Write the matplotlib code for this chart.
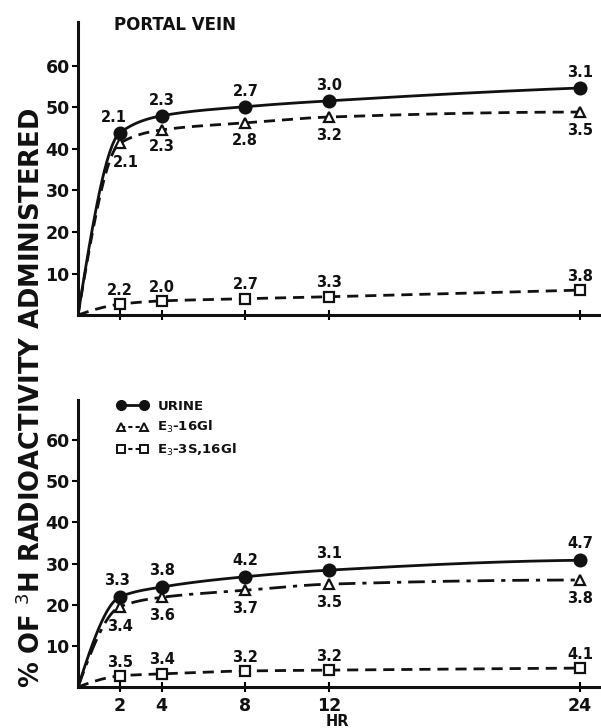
import matplotlib
matplotlib.use("Agg")
import matplotlib.pyplot as plt
import numpy as np
from matplotlib.lines import Line2D

hours = [2, 4, 8, 12, 24]

# Portal vein panel
pv_urine = [43.9, 48.0, 50.2, 51.6, 54.7]
pv_urine_lbl = ["2.1", "2.3", "2.7", "3.0", "3.1"]
pv_e3gl = [41.4, 44.6, 46.3, 47.7, 48.9]
pv_e3gl_lbl = ["2.1", "2.3", "2.8", "3.2", "3.5"]
pv_e3sgl = [2.6, 3.4, 3.9, 4.4, 6.0]
pv_e3sgl_lbl = ["2.2", "2.0", "2.7", "3.3", "3.8"]

# second panel
b_urine = [21.9, 24.3, 26.8, 28.4, 30.8]
b_urine_lbl = ["3.3", "3.8", "4.2", "3.1", "4.7"]
b_e3gl = [19.5, 21.8, 23.5, 25.0, 26.0]
b_e3gl_lbl = ["3.4", "3.6", "3.7", "3.5", "3.8"]
b_e3sgl = [2.7, 3.2, 3.9, 4.1, 4.6]
b_e3sgl_lbl = ["3.5", "3.4", "3.2", "3.2", "4.1"]

y_ticks = [10, 20, 30, 40, 50, 60]
x_ticks = [2, 4, 8, 12, 24]


def pchip(x, y, xs):
    # monotone cubic (Fritsch-Carlson) just for drawing the smooth curve
    x = np.asarray(x, float)
    y = np.asarray(y, float)
    h = np.diff(x)
    d = np.diff(y) / h
    m = np.zeros_like(y)
    for k in range(1, len(x) - 1):
        if d[k - 1] * d[k] > 0:
            w1 = 2 * h[k] + h[k - 1]
            w2 = h[k] + 2 * h[k - 1]
            m[k] = (w1 + w2) / (w1 / d[k - 1] + w2 / d[k])
    m[0] = ((2 * h[0] + h[1]) * d[0] - h[0] * d[1]) / (h[0] + h[1])
    if np.sign(m[0]) != np.sign(d[0]):
        m[0] = 0
    m[-1] = ((2 * h[-1] + h[-2]) * d[-1] - h[-1] * d[-2]) / (h[-1] + h[-2])
    if np.sign(m[-1]) != np.sign(d[-1]):
        m[-1] = 0
    idx = np.clip(np.searchsorted(x, xs) - 1, 0, len(x) - 2)
    t = (xs - x[idx]) / h[idx]
    h00 = 2 * t**3 - 3 * t**2 + 1
    h10 = t**3 - 2 * t**2 + t
    h01 = -2 * t**3 + 3 * t**2
    h11 = t**3 - t**2
    return h00 * y[idx] + h10 * h[idx] * m[idx] + h01 * y[idx + 1] + h11 * h[idx] * m[idx + 1]


xs = np.linspace(0, 24, 400)
ink = "#111111"
num_font = dict(fontsize=10.5, fontweight="bold", color=ink, ha="center", va="center")

fig = plt.figure(figsize=(6.01, 7.28), dpi=100)
ax_top = fig.add_axes([0.1298, 0.5673, 0.8702, 0.4025])
ax_bot = fig.add_axes([0.1298, 0.0563, 0.8702, 0.394])


def draw_series(ax, vals, labels, marker, face, ls, offsets):
    xx = [0] + hours
    yy = [0] + vals
    ax.plot(xs, pchip(xx, yy, xs), color=ink, lw=2.0, linestyle=ls, zorder=2)
    ax.plot(hours, vals, linestyle="none", marker=marker, markersize=8.5 if marker == "o" else 7.5,
            markerfacecolor=face, markeredgecolor=ink, markeredgewidth=1.6, zorder=3)
    for h, v, lbl, off in zip(hours, vals, labels, offsets):
        ax.annotate(lbl, (h, v), xytext=off, textcoords="offset points", **num_font)


def style_axes(ax, top):
    ax.set_xlim(0, 25)
    ax.set_ylim(0, 70.6 if top else 69.7)
    for side in ("top", "right"):
        ax.spines[side].set_visible(False)
    for side in ("left", "bottom"):
        ax.spines[side].set_linewidth(2.2)
        ax.spines[side].set_color(ink)
    ax.set_yticks(y_ticks)
    ax.set_yticklabels([str(v) for v in y_ticks], fontsize=12.5, fontweight="bold", color=ink)
    ax.tick_params(axis="y", direction="out", length=4, width=1.5, pad=2)
    ax.set_xticks(x_ticks)
    ax.tick_params(axis="x", direction="inout", length=7, width=1.5, pad=4)
    if top:
        ax.set_xticklabels([])
    else:
        ax.set_xticklabels([str(v) for v in x_ticks], fontsize=12.5, fontweight="bold", color=ink)
    ax.patch.set_visible(False)


# --- portal vein ---
draw_series(ax_top, pv_urine, pv_urine_lbl, "o", ink, "-",
            [(-4, 11), (0, 11), (0, 11), (0, 11), (0, 11)])
draw_series(ax_top, pv_e3gl, pv_e3gl_lbl, "^", "white", (0, (4, 2.5)),
            [(4, -14), (0, -12), (0, -13), (0, -13), (0, -13)])
draw_series(ax_top, pv_e3sgl, pv_e3sgl_lbl, "s", "white", (0, (4, 2.5)),
            [(0, 10), (0, 10), (0, 10), (0, 10), (0, 10)])
style_axes(ax_top, True)
fig.text(0.19, 0.965, "PORTAL VEIN", fontsize=12, fontweight="bold", color=ink, ha="left", va="center")

# --- urine ---
draw_series(ax_bot, b_urine, b_urine_lbl, "o", ink, "-",
            [(-2, 12), (0, 12), (0, 12), (0, 12), (0, 12)])
draw_series(ax_bot, b_e3gl, b_e3gl_lbl, "^", "white", (0, (6, 2.5, 1.5, 2.5)),
            [(0, -14), (0, -13), (0, -13), (0, -13), (0, -13)])
draw_series(ax_bot, b_e3sgl, b_e3sgl_lbl, "s", "white", (0, (4, 2.5)),
            [(0, 10), (0, 10), (0, 10), (0, 10), (0, 10)])
style_axes(ax_bot, False)
fig.text(0.561, 1 - 714 / 728, "HR", fontsize=10.5, fontweight="bold", color=ink,
         ha="center", va="top")

handles = [
    Line2D([], [], color=ink, lw=2, marker="o", markersize=7, markerfacecolor=ink),
    Line2D([], [], color=ink, lw=1.5, linestyle=(0, (2, 1.5)), marker="^", markersize=6,
           markerfacecolor="white", markeredgecolor=ink, markeredgewidth=1.4),
    Line2D([], [], color=ink, lw=1.5, linestyle=(0, (2, 1.5)), marker="s", markersize=6,
           markerfacecolor="white", markeredgecolor=ink, markeredgewidth=1.4),
]
labels = ["URINE", "E$_3$-16Gl", "E$_3$-3S,16Gl"]
leg = ax_bot.legend(handles, labels, loc="upper left", bbox_to_anchor=(0.183, 1 - 393 / 728),
                    bbox_transform=fig.transFigure, frameon=False, numpoints=2,
                    handlelength=2.4, handletextpad=0.7, labelspacing=0.5, borderpad=0,
                    prop=dict(size=9.5, weight="bold"))
for t in leg.get_texts():
    t.set_color(ink)

fig.text(0.052, 1 - 398 / 728, "% OF $^{3}$H RADIOACTIVITY ADMINISTERED", rotation=90,
         fontsize=18.5, fontweight="bold", color=ink, ha="center", va="center")

fig.savefig("out.png", dpi=100)
